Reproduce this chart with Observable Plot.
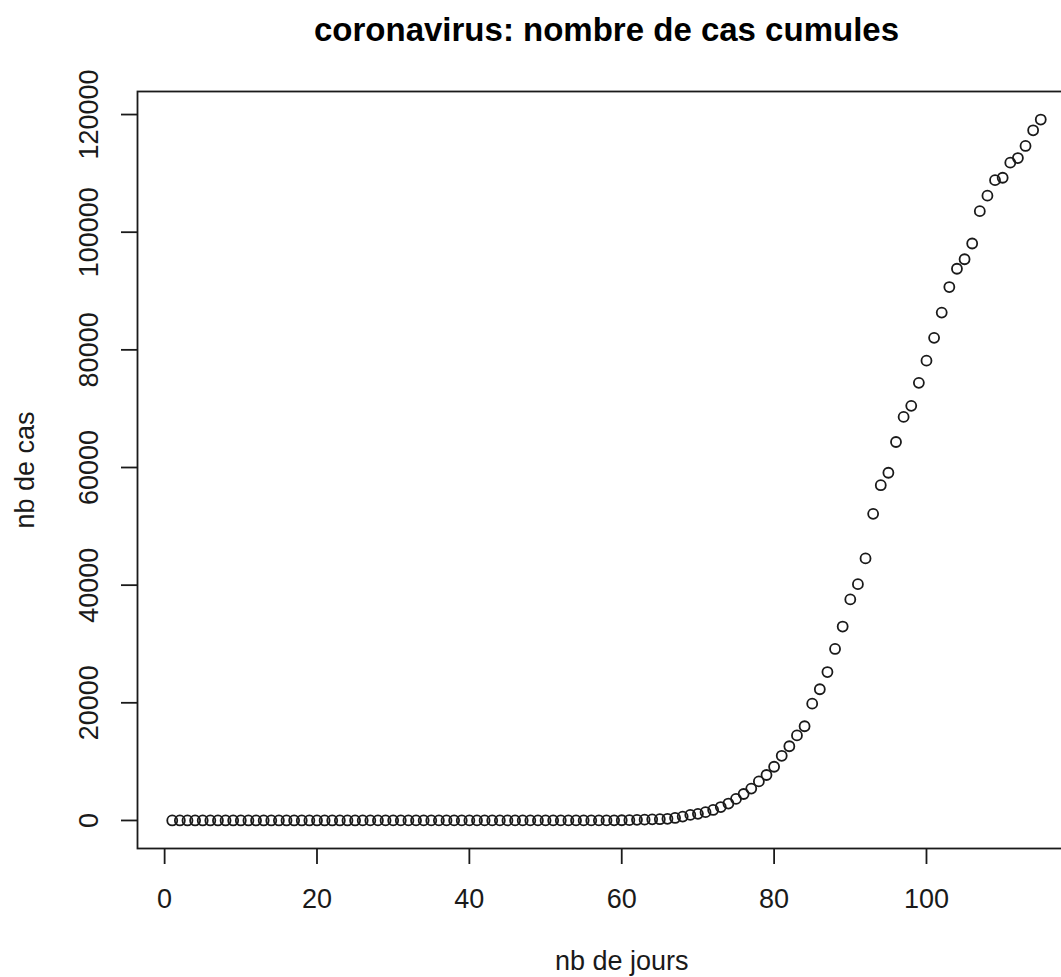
<!DOCTYPE html>
<html>
<head>
<meta charset="utf-8">
<script src="https://cdn.jsdelivr.net/npm/d3@7"></script>
<script src="https://cdn.jsdelivr.net/npm/@observablehq/plot@0.6"></script>
<style>
  html, body { margin: 0; padding: 0; background: #fff; overflow: hidden; }
  #chart { width: 1061px; height: 977px; overflow: hidden; }
  #chart svg { display: block; overflow: hidden; }
</style>
</head>
<body>
<div id="chart"></div>
<script>
// ---- data ----
const title = "coronavirus: nombre de cas cumules";
const xLabel = "nb de jours";
const yLabel = "nb de cas";
const xTicks = [0, 20, 40, 60, 80, 100];
const yTicks = [0, 20000, 40000, 60000, 80000, 100000, 120000];
// cumulative cases, day 1 .. day 115
const cases = [
  0,0,0,0,0,0,0,0,0,0,
  0,0,0,0,0,0,0,0,0,0,
  0,0,0,0,0,3,3,3,3,4,
  5,5,6,6,6,6,6,6,6,11,
  11,11,11,11,11,11,12,12,12,12,
  12,12,12,12,12,12,12,14,18,38,
  57,100,130,191,212,285,423,653,949,1126,
  1412,1784,2281,2876,3661,4499,5423,6633,7730,9134,
  10995,12612,14459,16018,19856,22302,25233,29155,32964,37575,
  40174,44550,52128,56989,59105,64338,68605,70478,74390,78167,
  82048,86334,90676,93790,95403,98076,103573,106206,108847,109252,
  111821,112606,114657,117324,119151
];
const days = cases.map((_, i) => i + 1);
const data = days.map((d, i) => ({day: d, cases: cases[i]}));

// R-style 4% range expansion
const [x0, x1] = d3.extent(days);
const [y0, y1] = d3.extent(cases);
const px = 0.04 * (x1 - x0), py = 0.04 * (y1 - y0);

const font = "'Liberation Sans', Arial, Helvetica, sans-serif";
const ink = "#1a1a1a";

const chart = Plot.plot({
  width: 1061,
  height: 977,
  marginLeft: 137,
  marginRight: -14,   // plot box continues past the right edge, as in the reference
  marginTop: 91,
  marginBottom: 129,
  style: {fontFamily: font, fontSize: "27px", color: ink, background: "#fff", overflow: "hidden"},
  x: {domain: [x0 - px, x1 + px]},
  y: {domain: [y0 - py, y1 + py]},
  marks: [
    Plot.frame({stroke: ink, strokeWidth: 1.8}),
    Plot.axisX({ticks: xTicks, tickSize: 16, tickPadding: 24, tickFormat: "d", label: null, stroke: ink, strokeWidth: 1.8, fill: ink, fontSize: 27}),
    Plot.axisY({ticks: yTicks, tickSize: 16, tickPadding: 24, tickRotate: -90, tickFormat: "d", label: null, stroke: ink, strokeWidth: 1.8, fill: ink, fontSize: 27}),
    Plot.dot(data, {x: "day", y: "cases", r: 5, stroke: ink, strokeWidth: 1.8, fill: "none"}),
    Plot.text([title], {frameAnchor: "top", dy: -51, lineAnchor: "bottom", fontWeight: "bold", fontSize: 33, fill: "#000"}),
    Plot.text([xLabel], {x: 60, frameAnchor: "bottom", dy: 102, lineAnchor: "top", fontSize: 27, fill: ink}),
    Plot.text([yLabel], {frameAnchor: "left", dx: -104, rotate: -90, lineAnchor: "bottom", textAnchor: "middle", fontSize: 27, fill: ink})
  ]
});
document.getElementById("chart").appendChild(chart);
</script>
</body>
</html>
